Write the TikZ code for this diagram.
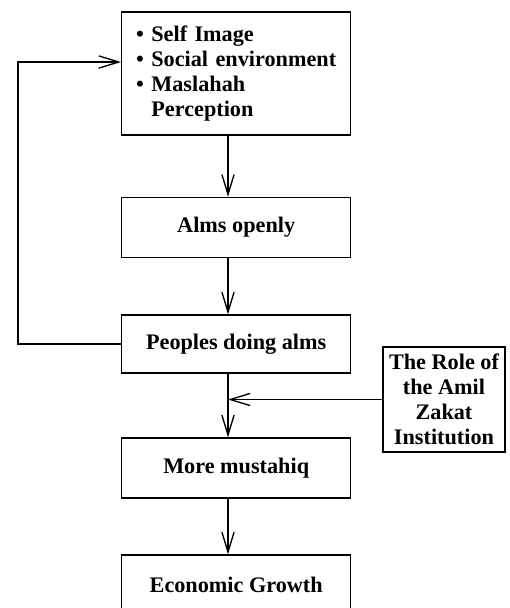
\documentclass[tikz,border=0pt]{standalone}
\usepackage{fontspec}
\setmainfont{Liberation Serif}
\usetikzlibrary{arrows.meta}
\tikzset{
  box/.style={draw, line width=0.6pt, minimum width=103pt, minimum height=27pt, font=\bfseries, inner sep=0pt},
  flow/.style={line width=0.6pt, -{Straight Barb[length=9pt,width=5.5pt,line width=0.6pt]}}
}
\begin{document}
\begin{tikzpicture}[x=0.45pt,y=-0.45pt]% pixel grid of the figure
	\useasboundingbox (0,0) rectangle (510,608);
	% main column
	\node[box, minimum height=55.35pt, text width=93pt, inner xsep=5pt, align=left, font=\bfseries\fontsize{10}{11.3}\selectfont] (image) at (236.2,73.5)
	  {\hyphenpenalty=10000 \hspace*{1.5pt}\textbullet\ Self Image\\ \hspace*{1.5pt}\textbullet\ Social environment\\ \hspace*{1.5pt}\textbullet\ Maslahah\\ \hspace*{1.5pt}\phantom{\textbullet\ }Perception};
	\node[box] (alms) at (236.2,227.4) {Alms openly};
	\node[box, minimum height=26.1pt] (peoples) at (236.2,344) {Peoples doing alms};
	\node[box] (mustahiq) at (236.2,468) {More mustahiq};
	\node[box] (growth) at (236.2,585) {Economic Growth};
	% side box
	\node[box, minimum width=54.9pt, minimum height=47.25pt, align=center, font=\bfseries\fontsize{10}{11.3}\selectfont] (amil) at (444,399.5)
	  {The Role of\\ the Amil\\ Zakat\\ Institution};
	\coordinate (spine) at (228,0);
	\coordinate (loop) at (18,62);
	% connectors
	\draw[flow] (image.south -| spine) -- (alms.north -| spine);
	\draw[flow] (alms.south -| spine) -- (peoples.north -| spine);
	\draw[flow] (peoples.south -| spine) -- (mustahiq.north -| spine);
	\draw[flow] (mustahiq.south -| spine) -- (growth.north -| spine);
	\draw[flow] (amil.west) -- (amil.west -| spine);
	\draw[flow] (peoples.west) -| (loop) -- (loop -| image.west);
\end{tikzpicture}
\end{document}
